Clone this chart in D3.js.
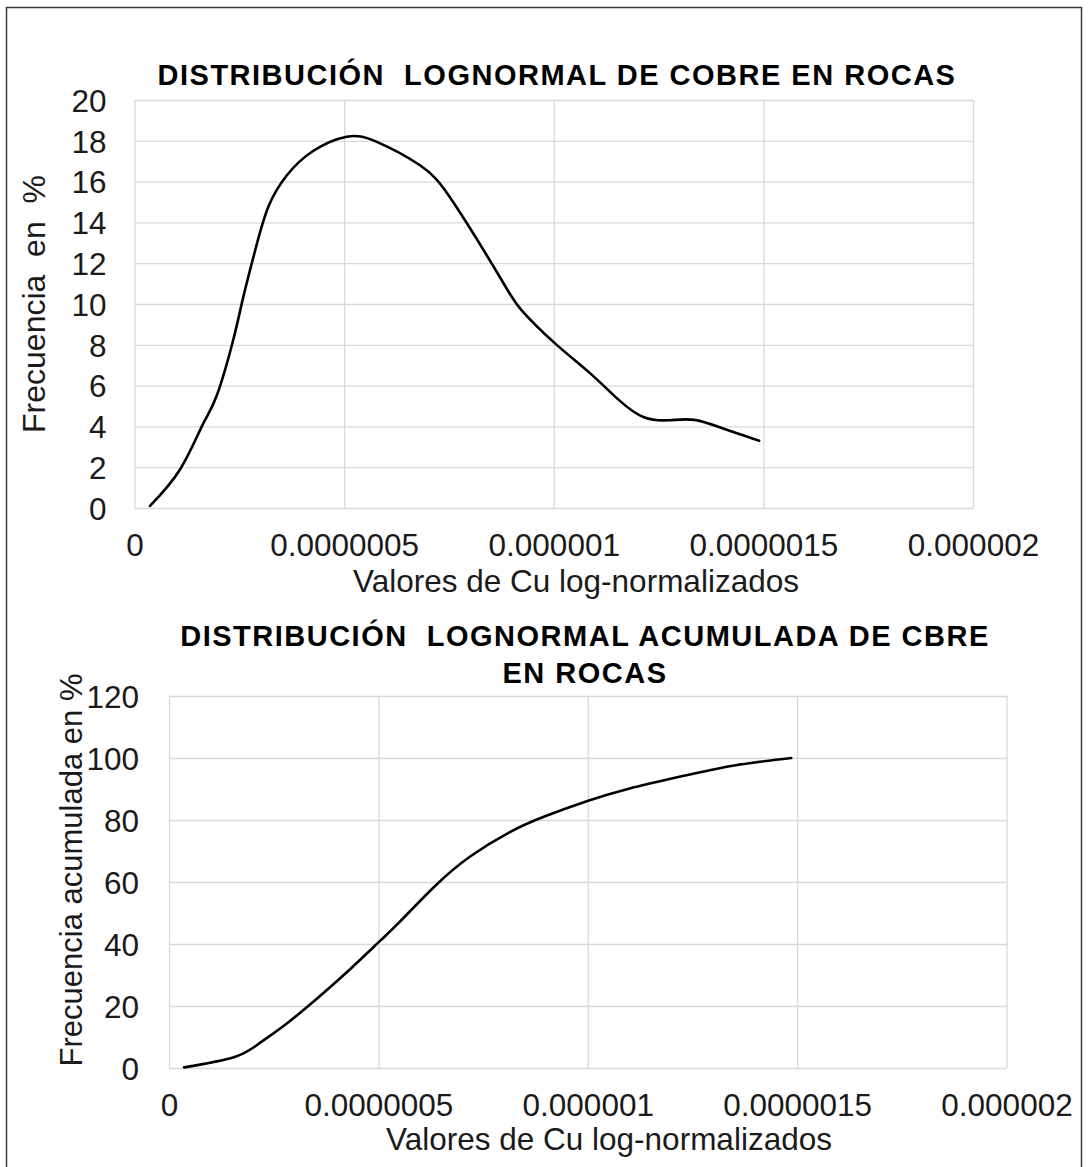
<!DOCTYPE html>
<html>
<head>
<meta charset="utf-8">
<script src="https://cdn.jsdelivr.net/npm/d3@7"></script>
<style>
  html, body { margin: 0; padding: 0; background: #fff; }
  svg { display: block; font-family: "Liberation Sans", Arial, sans-serif; }
</style>
</head>
<body>
<svg id="chart" width="1089" height="1167"></svg>
<script>
// ---------- DATA ----------
const xTickValues = [0, 5e-7, 1e-6, 1.5e-6, 2e-6];
const xTickLabels = ["0", "0.0000005", "0.000001", "0.0000015", "0.000002"];

const freqTicks = [0, 2, 4, 6, 8, 10, 12, 14, 16, 18, 20];
const cumTicks = [0, 20, 40, 60, 80, 100, 120];

// Lognormal frequency (%)
const freqX = [3.7e-8, 1.09e-7, 1.63e-7, 1.96e-7, 2.35e-7, 2.59e-7, 2.9e-7, 3.2e-7, 3.63e-7,
               4.26e-7, 5.06e-7, 5.78e-7, 6.81e-7, 7.6e-7, 8.72e-7, 9.23e-7, 1.003e-6, 1.087e-6,
               1.155e-6, 1.215e-6, 1.275e-6, 1.335e-6, 1.404e-6, 1.49e-6];
const freqY = [0.1, 1.9, 4.1, 5.5, 8.2, 10.3, 12.8, 14.8, 16.3,
               17.5, 18.2, 17.95, 16.8, 15.0, 11.3, 9.7, 8.07, 6.6,
               5.3, 4.45, 4.3, 4.32, 3.9, 3.3];

// Cumulative frequency (%)
const cumX = [3.6e-8, 1.55e-7, 2.12e-7, 2.75e-7, 3.55e-7, 4.35e-7, 5.04e-7, 5.52e-7, 6.36e-7,
              7.2e-7, 8.14e-7, 8.98e-7, 1.001e-6, 1.098e-6, 1.224e-6, 1.35e-6, 1.486e-6];
const cumY = [0.2, 3.5, 7.6, 13.7, 22.6, 32.2, 41.0, 47.3, 58.8,
              68.3, 76.1, 81.2, 86.2, 90.1, 94.1, 97.6, 100];

const titleTop = ["DISTRIBUCIÓN  LOGNORMAL DE COBRE EN ROCAS"];
const titleBottom = ["DISTRIBUCIÓN  LOGNORMAL ACUMULADA DE CBRE", "EN ROCAS"];
const xTitle = "Valores de Cu log-normalizados";
const yTitleTop = "Frecuencia  en  %";
const yTitleBottom = "Frecuencia acumulada en %";

// ---------- DRAW ----------
const svg = d3.select("#chart");
svg.append("rect").attr("width", 1089).attr("height", 1167).attr("fill", "#fff");
svg.append("rect").attr("x", 6.5).attr("y", 7.5).attr("width", 1075).attr("height", 1180)
  .attr("fill", "none").attr("stroke", "#3a3a3a").attr("stroke-width", 1.5);

function drawChart(cfg) {
  const x = d3.scaleLinear().domain([0, 2e-6]).range([cfg.left, cfg.right]);
  const y = d3.scaleLinear().domain([0, cfg.yMax]).range([cfg.bottom, cfg.top]);
  const g = svg.append("g");

  // y axis + horizontal gridlines
  const ya = g.append("g").attr("transform", `translate(${cfg.left},0)`)
    .call(d3.axisLeft(y).tickValues(cfg.yTicks).tickSize(-(cfg.right - cfg.left)).tickPadding(cfg.yPad).tickFormat(d3.format("d")));
  ya.select(".domain").remove();
  ya.selectAll("line").attr("stroke", "#d9d9d9").attr("stroke-width", 1.3);
  ya.selectAll("text").attr("font-size", 31.5).attr("fill", "#1a1a1a").attr("font-family", "Liberation Sans, Arial").attr("dy", "0.36em");

  // x axis + vertical gridlines
  const xa = g.append("g").attr("transform", `translate(0,${cfg.bottom})`)
    .call(d3.axisBottom(x).tickValues(xTickValues).tickSize(-(cfg.bottom - cfg.top)).tickPadding(25.5)
      .tickFormat((d, i) => xTickLabels[i]));
  xa.select(".domain").remove();
  xa.selectAll("line").attr("stroke", "#d9d9d9").attr("stroke-width", 1.3);
  xa.selectAll("text").attr("font-size", 31.5).attr("fill", "#1a1a1a").attr("font-family", "Liberation Sans, Arial");

  // curve
  const pts = cfg.xs.map((v, i) => [v, cfg.ys[i]]);
  g.append("path").datum(pts)
    .attr("fill", "none").attr("stroke", "#000").attr("stroke-width", 2.6)
    .attr("stroke-linejoin", "round").attr("stroke-linecap", "round")
    .attr("d", d3.line().x(d => x(d[0])).y(d => y(d[1])).curve(d3.curveNatural));

  // title
  cfg.title.forEach((t, i) => {
    g.append("text").attr("x", cfg.titleX).attr("y", cfg.titleY + i * 36.6)
      .attr("text-anchor", "middle").attr("font-weight", "bold").attr("font-size", 29)
      .attr("letter-spacing", "1.5px").attr("fill", "#000")
      .style("white-space", "pre").text(t);
  });

  // x title
  g.append("text").attr("x", cfg.xTitleX).attr("y", cfg.xTitleY)
    .attr("text-anchor", "middle").attr("font-size", 31.5)
    .attr("fill", "#1a1a1a").text(xTitle);

  // y title
  g.append("text").attr("transform", `translate(${cfg.yTitleX},${cfg.yTitleY}) rotate(-90)`)
    .attr("text-anchor", "middle").attr("font-size", cfg.yTitleSize).attr("fill", "#1a1a1a")
    .style("white-space", "pre").text(cfg.yTitle);
}

drawChart({
  left: 134.5, right: 973, top: 100, bottom: 508, yMax: 20, yTicks: freqTicks, yPad: 28,
  xs: freqX, ys: freqY, title: titleTop, titleX: 557, titleY: 85,
  xTitleX: 576, xTitleY: 592, yTitle: yTitleTop, yTitleX: 45, yTitleY: 304, yTitleSize: 32
});

drawChart({
  left: 169, right: 1006.5, top: 696, bottom: 1068, yMax: 120, yTicks: cumTicks, yPad: 30,
  xs: cumX, ys: cumY, title: titleBottom, titleX: 585, titleY: 646,
  xTitleX: 609, xTitleY: 1150, yTitle: yTitleBottom, yTitleX: 82, yTitleY: 870, yTitleSize: 31
});
</script>
</body>
</html>
